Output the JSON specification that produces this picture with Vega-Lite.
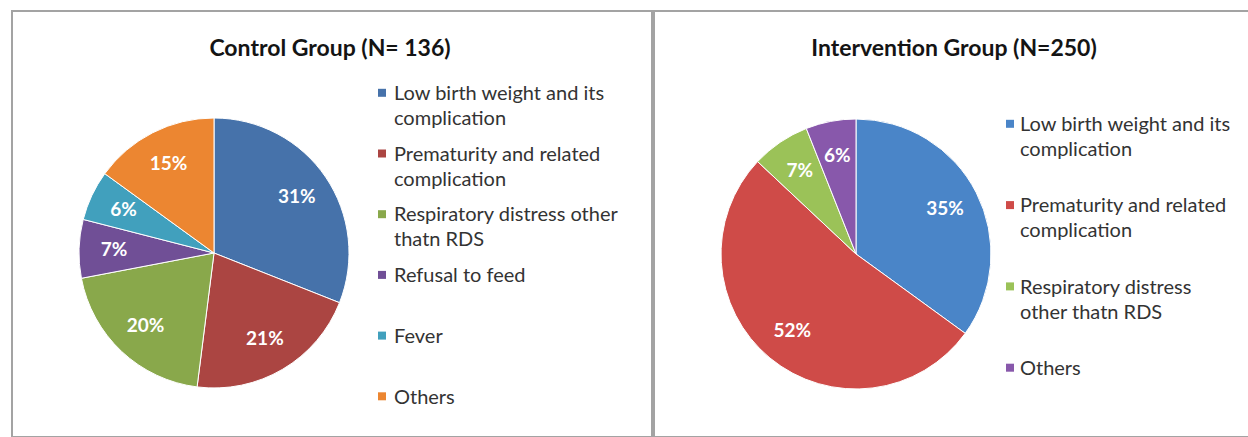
{
  "$schema": "https://vega.github.io/schema/vega-lite/v6.json",
  "background": "white",
  "padding": {"left": 11, "top": 10, "right": 0, "bottom": 0},
  "autosize": {"type": "pad"},
  "spacing": 0,
  "config": {
    "view": {"stroke": "#a3a3a3", "strokeWidth": 2},
    "font": "Lato",
    "style": {"guide-label": {"lineHeight": 25}},
    "title": {"font": "Lato", "fontSize": 23, "fontWeight": "bold", "color": "#141414", "anchor": "middle"},
    "legend": {
      "padding": 0,
      "title": null,
      "labelFont": "Lato",
      "labelFontSize": 20,
      "labelColor": "#333333",
      "labelBaseline": "top",
      "labelLimit": 400,
      "symbolType": "M-1,1.2H1V3.2H-1Z",
      "symbolSize": 64,
      "symbolStrokeWidth": 0,
      "symbolOpacity": 1
    }
  },
  "hconcat": [
    {
      "width": 640,
      "height": 426,
      "view": {"stroke": "#a3a3a3", "strokeWidth": 2},
      "title": {"text": "Control Group (N= 136)", "offset": -50, "dx": -2},
      "data": {
        "values": [
          {"cause": "Low birth weight and its|complication", "pct": 0.31},
          {"cause": "Prematurity and related|complication", "pct": 0.21},
          {"cause": "Respiratory distress other|thatn RDS", "pct": 0.20},
          {"cause": "Refusal to feed", "pct": 0.07},
          {"cause": "Fever", "pct": 0.06},
          {"cause": "Others", "pct": 0.15}
        ]
      },
      "transform": [{"window": [{"op": "row_number", "as": "k"}]}],
      "encoding": {
        "theta": {"field": "pct", "type": "quantitative", "stack": true},
        "order": {"field": "k", "type": "quantitative"}
      },
      "layer": [
        {
          "mark": {"type": "arc", "outerRadius": 135, "x": 202, "y": 242, "stroke": "#ffffff", "strokeWidth": 1},
          "encoding": {
            "color": {
              "field": "cause",
              "type": "nominal",
              "sort": [
                "Low birth weight and its|complication",
                "Prematurity and related|complication",
                "Respiratory distress other|thatn RDS",
                "Refusal to feed",
                "Fever",
                "Others"
              ],
              "scale": {"range": ["#4672aa", "#ab4542", "#89a84b", "#704f96", "#41a0bd", "#ec8631"]},
              "legend": {
                "orient": "none",
                "legendX": 360,
                "legendY": 63,
                "rowPadding": 5.7,
                "labelOffset": 2,
                "labelExpr": "indexof(datum.label, '|') >= 0 ? split(datum.label, '|') : [datum.label, '']"
              }
            }
          }
        },
        {
          "mark": {"type": "text", "radius": 100, "x": 202, "y": 242, "fill": "#ffffff", "font": "Lato", "fontWeight": "bold", "fontSize": 19},
          "encoding": {
            "detail": {"field": "cause", "type": "nominal"},
            "text": {"field": "pct", "type": "quantitative", "format": ".0%"}
          }
        }
      ]
    },
    {
      "width": 596,
      "height": 426,
      "view": {"stroke": "#a3a3a3", "strokeWidth": 2},
      "title": {"text": "Intervention Group (N=250)", "offset": -50, "dx": 2},
      "data": {
        "values": [
          {"cause": "Low birth weight and its|complication", "pct": 0.35},
          {"cause": "Prematurity and related|complication", "pct": 0.52},
          {"cause": "Respiratory distress|other thatn RDS", "pct": 0.07},
          {"cause": "Others", "pct": 0.06}
        ]
      },
      "transform": [{"window": [{"op": "row_number", "as": "k"}]}],
      "encoding": {
        "theta": {"field": "pct", "type": "quantitative", "stack": true},
        "order": {"field": "k", "type": "quantitative"}
      },
      "layer": [
        {
          "mark": {"type": "arc", "outerRadius": 135, "x": 202, "y": 243, "stroke": "#ffffff", "strokeWidth": 1},
          "encoding": {
            "color": {
              "field": "cause",
              "type": "nominal",
              "sort": [
                "Low birth weight and its|complication",
                "Prematurity and related|complication",
                "Respiratory distress|other thatn RDS",
                "Others"
              ],
              "scale": {"range": ["#4a85c8", "#cf4b48", "#9bc258", "#8858ab"]},
              "legend": {
                "orient": "none",
                "legendX": 346,
                "legendY": 94,
                "rowPadding": 26.3,
                "labelOffset": 0,
                "labelExpr": "split(datum.label, '|')"
              }
            }
          }
        },
        {
          "mark": {"type": "text", "radius": 100, "x": 202, "y": 243, "fill": "#ffffff", "font": "Lato", "fontWeight": "bold", "fontSize": 19},
          "encoding": {
            "detail": {"field": "cause", "type": "nominal"},
            "text": {"field": "pct", "type": "quantitative", "format": ".0%"}
          }
        }
      ]
    }
  ],
  "resolve": {
    "scale": {"color": "independent", "theta": "independent"},
    "legend": {"color": "independent"}
  }
}
